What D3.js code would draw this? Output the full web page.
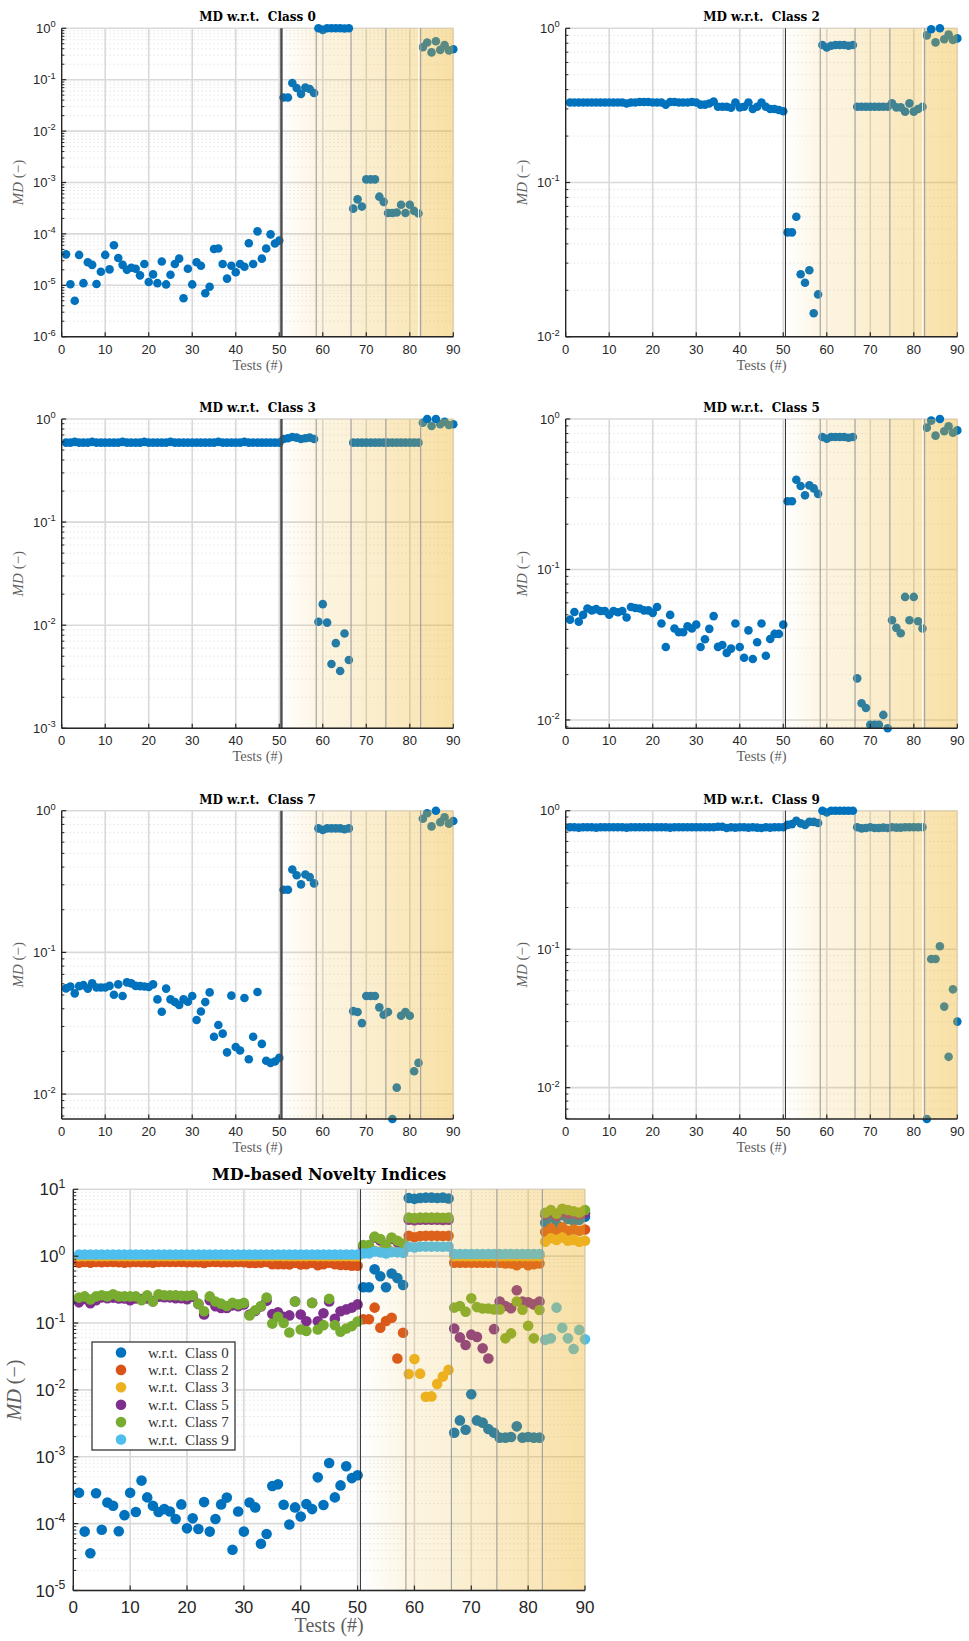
<!DOCTYPE html>
<html><head><meta charset="utf-8">
<script src="https://cdn.jsdelivr.net/npm/d3@7"></script>
<style>body{margin:0;background:#fff}svg{display:block}</style>
</head><body><svg id="c" width="969" height="1641"></svg>
<script>
// ---------------- DATA ----------------
const tests = d3.range(1, 91);
const xTickValues = [0,10,20,30,40,50,60,70,80,90];
const classNames = ["0","2","3","5","7","9"];
const bandEdges = [50.5, 58.5, 66.5, 74.5, 82.5, 90];

// MD w.r.t. Class 0
const c0 = [4.0e-5,1.05e-5,5.0e-6,3.9e-5,1.1e-5,2.8e-5,2.5e-5,1.06e-5,1.84e-5,3.9e-5,
2.04e-5,6.0e-5,3.4e-5,2.5e-5,2.0e-5,2.2e-5,2.1e-5,1.56e-5,2.6e-5,1.16e-5,
1.63e-5,1.1e-5,2.9e-5,1.04e-5,1.6e-5,2.6e-5,3.3e-5,5.6e-6,2.1e-5,1.04e-5,
2.8e-5,2.4e-5,7.0e-6,9.4e-6,5.1e-5,5.2e-5,2.6e-5,1.35e-5,2.4e-5,1.8e-5,
2.6e-5,2.3e-5,6.6e-5,2.6e-5,1.12e-4,3.3e-5,5.2e-5,9.8e-5,6.5e-5,7.4e-5,
0.045,0.045,0.086,0.069,0.053,0.07,0.066,0.055,
1.0,0.93,1.0,1.0,1.0,1.0,0.99,1.0,
3.1e-4,4.7e-4,3.4e-4,1.15e-3,1.15e-3,1.15e-3,5.3e-4,4.2e-4,
2.55e-4,2.55e-4,2.6e-4,3.7e-4,2.55e-4,3.7e-4,2.8e-4,2.5e-4,
0.43,0.53,0.34,0.56,0.38,0.47,0.37,0.39];
// MD w.r.t. Class 2
const c2 = [0.33,0.33,0.33,0.33,0.33,0.33,0.33,0.33,0.33,0.33,
0.33,0.33,0.33,0.325,0.33,0.33,0.333,0.333,0.333,0.33,
0.33,0.33,0.32,0.333,0.333,0.33,0.33,0.33,0.333,0.33,
0.32,0.32,0.325,0.335,0.31,0.31,0.31,0.305,0.33,0.307,
0.31,0.33,0.30,0.31,0.33,0.31,0.30,0.30,0.295,0.29,
0.0475,0.0475,0.06,0.0254,0.0224,0.027,0.0142,0.0188,
0.78,0.75,0.77,0.78,0.78,0.78,0.77,0.78,
0.31,0.31,0.31,0.31,0.31,0.31,0.31,0.31,
0.326,0.307,0.307,0.288,0.326,0.288,0.30,0.31,
0.9,0.985,0.81,1.0,0.85,0.91,0.84,0.86];
// MD w.r.t. Class 3
const c3 = [0.59,0.59,0.6,0.59,0.59,0.59,0.6,0.59,0.59,0.59,
0.59,0.59,0.59,0.6,0.59,0.59,0.59,0.59,0.6,0.59,
0.59,0.59,0.59,0.59,0.6,0.59,0.59,0.59,0.59,0.59,
0.59,0.59,0.59,0.59,0.59,0.6,0.59,0.59,0.59,0.59,
0.59,0.6,0.59,0.59,0.59,0.59,0.59,0.59,0.59,0.59,
0.64,0.65,0.67,0.66,0.64,0.65,0.66,0.64,
0.0108,0.016,0.0106,0.0042,0.0067,0.0036,0.0083,0.0046,
0.59,0.59,0.59,0.59,0.59,0.59,0.59,0.59,
0.59,0.59,0.59,0.59,0.59,0.59,0.59,0.59,
0.92,1.0,0.855,1.0,0.89,0.94,0.875,0.89];
// MD w.r.t. Class 5
const c5 = [0.0464,0.0522,0.045,0.0499,0.055,0.0535,0.0545,0.053,0.053,0.050,
0.053,0.052,0.053,0.0479,0.0563,0.0555,0.055,0.0535,0.0535,0.0515,
0.0563,0.0437,0.0305,0.0499,0.0405,0.0383,0.0383,0.0419,0.0405,0.043,
0.0305,0.0344,0.0403,0.049,0.0306,0.0315,0.0279,0.0298,0.0437,0.0305,
0.0259,0.0394,0.0254,0.0328,0.0437,0.0267,0.0345,0.0373,0.0373,0.043,
0.284,0.284,0.395,0.359,0.311,0.362,0.346,0.318,
0.76,0.74,0.76,0.76,0.76,0.76,0.75,0.76,
0.0189,0.0129,0.012,0.0093,0.0093,0.0093,0.0108,0.0088,
0.046,0.0409,0.0377,0.0657,0.046,0.0657,0.0453,0.0405,
0.876,0.975,0.775,1.0,0.83,0.894,0.81,0.84];
// MD w.r.t. Class 7
const c7 = [0.0557,0.0575,0.0514,0.0578,0.0587,0.0555,0.0604,0.0565,0.0565,0.0565,
0.058,0.0503,0.0595,0.0492,0.0614,0.0604,0.058,0.0578,0.0575,0.057,
0.0595,0.0466,0.0381,0.0555,0.0466,0.0446,0.0425,0.0466,0.0448,0.0492,
0.0333,0.0383,0.0446,0.0522,0.0254,0.0307,0.0267,0.0197,0.0495,0.0215,
0.0203,0.0476,0.0176,0.0254,0.0525,0.0226,0.0172,0.0166,0.017,0.018,
0.277,0.277,0.385,0.35,0.302,0.355,0.34,0.307,
0.75,0.73,0.75,0.75,0.75,0.75,0.74,0.75,
0.0385,0.038,0.0317,0.0492,0.0492,0.0492,0.0409,0.0363,
0.038,0.00667,0.0111,0.0357,0.038,0.0357,0.0145,0.0166,
0.878,0.96,0.775,1.0,0.83,0.9,0.81,0.845];
// MD w.r.t. Class 9
const c9 = [0.76,0.76,0.755,0.76,0.76,0.76,0.755,0.76,0.76,0.76,
0.76,0.76,0.76,0.755,0.76,0.76,0.76,0.76,0.76,0.76,
0.76,0.76,0.76,0.755,0.76,0.76,0.76,0.76,0.76,0.76,
0.76,0.76,0.76,0.76,0.765,0.765,0.75,0.76,0.755,0.76,
0.76,0.755,0.76,0.755,0.75,0.76,0.755,0.76,0.76,0.76,
0.79,0.8,0.847,0.81,0.79,0.83,0.83,0.815,
1.0,0.97,1.0,1.0,1.0,1.0,1.0,1.0,
0.76,0.745,0.75,0.76,0.75,0.75,0.755,0.75,
0.76,0.755,0.755,0.76,0.76,0.76,0.76,0.76,
0.00594,0.085,0.085,0.105,0.0385,0.0167,0.0513,0.03];

// MD-based novelty indices (bottom panel)
const n0 = [2.9e-4,7.6e-5,3.6e-5,2.85e-4,8.1e-5,2.07e-4,1.85e-4,7.7e-5,1.34e-4,2.9e-4,
1.49e-4,4.4e-4,2.47e-4,1.85e-4,1.49e-4,1.65e-4,1.52e-4,1.17e-4,1.94e-4,8.5e-5,
1.2e-4,8.3e-5,2.1e-4,7.6e-5,1.17e-4,1.94e-4,2.45e-4,4.06e-5,1.52e-4,7.6e-5,
2.07e-4,1.75e-4,5.0e-5,7.0e-5,3.65e-4,3.87e-4,1.92e-4,9.7e-5,1.75e-4,1.28e-4,
1.96e-4,1.65e-4,4.92e-4,1.9e-4,8.05e-4,2.47e-4,3.73e-4,7.2e-4,4.8e-4,5.3e-4,
0.342,0.342,0.635,0.5,0.342,0.55,0.47,0.37,
7.4,7.2,7.4,7.5,7.5,7.4,7.5,7.3,
2.29e-3,3.5e-3,2.54e-3,8.6e-3,3.5e-3,3.24e-3,2.6e-3,2.29e-3,
1.93e-3,1.93e-3,1.98e-3,2.85e-3,1.93e-3,1.98e-3,1.93e-3,1.93e-3,
3.16,3.8,3.0,4.1,3.6,3.4,3.5,3.9];
const n2 = [0.8,0.82,0.8,0.82,0.81,0.82,0.82,0.81,0.8,0.81,
0.82,0.81,0.81,0.8,0.82,0.82,0.82,0.82,0.82,0.81,
0.81,0.81,0.79,0.82,0.82,0.81,0.81,0.81,0.82,0.81,
0.79,0.79,0.8,0.82,0.76,0.76,0.76,0.75,0.8,0.75,
0.76,0.8,0.73,0.76,0.8,0.76,0.74,0.74,0.72,0.72,
0.114,0.114,0.17,0.085,0.107,0.12,0.0295,0.0716,
2.02,1.92,2.0,2.02,2.02,2.02,2.0,2.02,
0.8,0.8,0.8,0.8,0.8,0.8,0.8,0.8,
0.8,0.78,0.78,0.73,0.8,0.73,0.76,0.78,
2.3,2.6,2.15,2.7,2.4,2.5,2.4,2.5];
const n3 = [1.0,1.0,1.01,1.0,1.0,1.0,1.01,1.0,1.0,1.0,
1.0,1.0,1.0,1.01,1.0,1.0,1.0,1.0,1.01,1.0,
1.0,1.0,1.0,1.0,1.01,1.0,1.0,1.0,1.0,1.0,
1.0,1.0,1.0,1.0,1.0,1.01,1.0,1.0,1.0,1.0,
1.0,1.01,1.0,1.0,1.0,1.0,1.0,1.0,1.0,1.0,
1.15,1.15,1.2,1.18,1.15,1.17,1.18,1.15,
0.0173,0.029,0.0175,0.0079,0.008,0.0123,0.0158,0.0199,
1.0,1.0,1.0,1.0,1.0,1.0,1.0,1.0,
1.0,1.0,1.0,1.0,1.0,1.0,1.0,1.0,
1.64,1.85,1.75,1.9,1.7,1.75,1.64,1.7];
const n5 = [0.204,0.23,0.198,0.22,0.242,0.235,0.24,0.233,0.233,0.22,
0.233,0.229,0.233,0.211,0.248,0.244,0.242,0.235,0.235,0.227,
0.248,0.192,0.134,0.22,0.178,0.168,0.168,0.184,0.178,0.19,
0.134,0.151,0.177,0.216,0.136,0.145,0.124,0.13,0.21,0.134,
0.106,0.2,0.106,0.14,0.21,0.116,0.15,0.16,0.17,0.19,
1.4,1.4,1.9,1.72,1.4,1.82,1.62,1.45,
3.5,3.45,3.5,3.5,3.5,3.5,3.48,3.5,
0.083,0.061,0.047,0.067,0.062,0.042,0.0295,0.081,
0.21,0.18,0.166,0.31,0.21,0.205,0.19,0.21,
4.2,4.5,4.0,4.6,4.3,4.4,4.2,4.4];
const n7 = [0.24,0.25,0.225,0.25,0.26,0.25,0.27,0.25,0.25,0.25,
0.25,0.22,0.26,0.21,0.27,0.26,0.26,0.26,0.255,0.255,
0.26,0.195,0.15,0.25,0.21,0.195,0.18,0.2,0.19,0.2,
0.13,0.155,0.18,0.24,0.098,0.124,0.1,0.072,0.21,0.08,
0.076,0.2,0.08,0.093,0.23,0.093,0.074,0.083,0.09,0.105,
1.47,1.47,1.96,1.8,1.47,1.9,1.7,1.55,
3.77,3.7,3.77,3.77,3.77,3.77,3.75,3.77,
0.17,0.18,0.148,0.234,0.173,0.165,0.165,0.16,
0.16,0.059,0.07,0.21,0.158,0.091,0.059,0.157,
4.47,4.9,4.3,5.1,4.9,4.7,4.5,4.9];
const n9 = [1.06,1.06,1.06,1.06,1.06,1.06,1.06,1.06,1.06,1.06,
1.06,1.06,1.06,1.06,1.06,1.06,1.06,1.06,1.06,1.06,
1.06,1.06,1.06,1.06,1.06,1.06,1.06,1.06,1.06,1.06,
1.06,1.06,1.06,1.06,1.06,1.06,1.06,1.06,1.06,1.06,
1.06,1.06,1.06,1.06,1.06,1.06,1.06,1.06,1.06,1.06,
1.1,1.1,1.18,1.14,1.1,1.15,1.14,1.12,
1.39,1.35,1.39,1.39,1.39,1.39,1.38,1.39,
1.08,1.08,1.08,1.08,1.08,1.08,1.08,1.08,
1.08,1.08,1.08,1.08,1.08,1.08,1.08,1.08,
0.056,0.059,0.17,0.085,0.059,0.041,0.079,0.057];

const seriesColors = ["#0072BD","#D95319","#EDB120","#7E2F8E","#77AC30","#4DBEEE"];
const bandColor = "#EDB120";
const bandAlphaStart = [0.0, 0.13, 0.19, 0.27, 0.34];
const bandAlphaEnd   = [0.12, 0.17, 0.24, 0.31, 0.40];

// ---------------- DRAW ----------------
const svg = d3.select("#c");
const defs = svg.append("defs");
bandAlphaStart.forEach((a, i) => {
  const gr = defs.append("linearGradient").attr("id", "band" + i)
    .attr("x1", 0).attr("x2", 1).attr("y1", 0).attr("y2", 0);
  gr.append("stop").attr("offset", 0).attr("stop-color", bandColor).attr("stop-opacity", a);
  gr.append("stop").attr("offset", 1).attr("stop-color", bandColor).attr("stop-opacity", bandAlphaEnd[i]);
});

const SANS = "'Liberation Sans', Arial, Helvetica, sans-serif";
const SERIF = "'Liberation Serif', 'Times New Roman', serif";
const SERIFB = "'DejaVu Serif', 'Liberation Serif', serif";

function drawPanel(cfg) {
  const { left, right, top, bottom, yMin, yMax, series, title, big, thick, whiteLine, frontTop } = cfg;
  const x = d3.scaleLinear().domain([0, 90]).range([left, right]);
  const y = d3.scaleLog().domain([yMin, yMax]).range([bottom, top]);
  const g = svg.append("g");
  const tickFs = big ? 17 : 13;
  const r = big ? 5.3 : 4.3;

  const lo = Math.floor(Math.log10(yMin)), hi = Math.ceil(Math.log10(yMax));
  const minorY = [];
  for (let d = lo; d < hi; d++) for (let m = 2; m <= 9; m++) {
    const v = m * Math.pow(10, d);
    if (v > yMin && v < yMax) minorY.push(v);
  }
  const majorY = [];
  for (let d = lo; d <= hi; d++) { const v = Math.pow(10, d); if (v >= yMin * 0.999 && v <= yMax * 1.001) majorY.push(v); }

  g.selectAll(".mgy").data(minorY).enter().append("line")
    .attr("x1", left).attr("x2", right).attr("y1", d => y(d)).attr("y2", d => y(d))
    .attr("stroke", "#d0d0d0").attr("stroke-width", 0.8).attr("stroke-dasharray", "1,3");
  g.selectAll(".gy").data(majorY).enter().append("line")
    .attr("x1", left).attr("x2", right).attr("y1", d => y(d)).attr("y2", d => y(d))
    .attr("stroke", "#d9d9d9").attr("stroke-width", 1.6);
  g.selectAll(".gx").data(xTickValues.filter(v => v > 0)).enter().append("line")
    .attr("y1", top).attr("y2", bottom).attr("x1", d => x(d)).attr("x2", d => x(d))
    .attr("stroke", "#d9d9d9").attr("stroke-width", 1.6);

  const isFront = v => frontTop && v >= yMax * 0.98;
  series.forEach(s => {
    g.append("g").selectAll("circle").data(s.vals.map((v, i) => [tests[i], v]).filter(p => !isFront(p[1])))
      .enter().append("circle").attr("cx", p => x(p[0])).attr("cy", p => y(p[1])).attr("r", r)
      .attr("fill", s.color);
  });
  for (let i = 0; i < bandEdges.length - 1; i++) {
    g.append("rect").attr("x", x(bandEdges[i])).attr("y", top)
      .attr("width", x(bandEdges[i + 1]) - x(bandEdges[i])).attr("height", bottom - top)
      .attr("fill", "url(#band" + i + ")");
  }
  if (whiteLine) {
    g.append("line").attr("x1", x(82.0)).attr("x2", x(82.0)).attr("y1", top).attr("y2", bottom)
      .attr("stroke", "#ffffff").attr("stroke-width", 1).attr("opacity", 0.85);
  }
  bandEdges.slice(1, 5).forEach(b => {
    g.append("line").attr("x1", x(b)).attr("x2", x(b)).attr("y1", top).attr("y2", bottom)
      .attr("stroke", "#9c9c9c").attr("stroke-width", 1.1);
  });
  g.append("line").attr("x1", x(bandEdges[0])).attr("x2", x(bandEdges[0])).attr("y1", top).attr("y2", bottom)
    .attr("stroke", thick ? "#4a4a4a" : "#2a2a2a").attr("stroke-width", thick ? 2.4 : 1);
  series.forEach(s => {
    g.append("g").selectAll("circle").data(s.vals.map((v, i) => [tests[i], v]).filter(p => isFront(p[1])))
      .enter().append("circle").attr("cx", p => x(p[0])).attr("cy", p => y(p[1])).attr("r", r)
      .attr("fill", s.color);
  });

  const ax = "#262626";
  g.append("line").attr("x1", left).attr("x2", left).attr("y1", top).attr("y2", bottom).attr("stroke", ax).attr("stroke-width", 1.4);
  g.append("line").attr("x1", left).attr("x2", right).attr("y1", bottom).attr("y2", bottom).attr("stroke", ax).attr("stroke-width", 1.4);
  const tl = big ? 5 : 4.5;
  majorY.forEach(v => g.append("line").attr("x1", left).attr("x2", left + tl).attr("y1", y(v)).attr("y2", y(v)).attr("stroke", ax).attr("stroke-width", 1.2));
  minorY.forEach(v => g.append("line").attr("x1", left).attr("x2", left + tl * 0.6).attr("y1", y(v)).attr("y2", y(v)).attr("stroke", ax).attr("stroke-width", 1));
  xTickValues.forEach(v => g.append("line").attr("x1", x(v)).attr("x2", x(v)).attr("y1", bottom).attr("y2", bottom - tl).attr("stroke", ax).attr("stroke-width", 1.2));

  xTickValues.forEach(v => g.append("text").attr("x", x(v)).attr("y", bottom + (big ? 22 : 17))
    .attr("text-anchor", "middle").attr("font-family", SANS).attr("font-size", tickFs).attr("fill", "#262626").text(v));
  majorY.forEach(v => {
    const t = g.append("text").attr("x", left - (big ? 8 : 6)).attr("y", y(v) + tickFs * 0.36)
      .attr("text-anchor", "end").attr("font-family", SANS).attr("font-size", tickFs).attr("fill", "#262626");
    t.append("tspan").text("10");
    t.append("tspan").attr("dy", -tickFs * 0.45).attr("font-size", tickFs * 0.72).text(Math.round(Math.log10(v)));
  });

  const cx = (left + right) / 2, cy = (top + bottom) / 2;
  g.append("text").attr("x", cx).attr("y", top - (big ? 9 : 7)).attr("text-anchor", "middle")
    .attr("font-family", SERIFB).attr("font-weight", "bold").attr("font-size", big ? 16 : 12)
    .attr("fill", "#000").attr("xml:space", "preserve").text(title);
  g.append("text").attr("x", cx).attr("y", bottom + (big ? 41 : 33)).attr("text-anchor", "middle")
    .attr("font-family", SERIF).attr("font-size", big ? 20 : 14.5).attr("fill", "#5f5f5f").text("Tests (#)");
  const yl = g.append("text").attr("transform", `translate(${left - (big ? 52 : 39)},${cy}) rotate(-90)`)
    .attr("text-anchor", "middle").attr("font-family", SERIF).attr("font-size", big ? 20 : 15).attr("fill", "#5f5f5f");
  yl.append("tspan").attr("font-style", "italic").text("MD");
  yl.append("tspan").text(" (\u2212)");
  return { x, y, g };
}

const topSeries = [c0, c2, c3, c5, c7, c9];
const yMins = [1e-6, 1e-2, 1e-3, 0.0088, 0.00667, 0.00594];
const colLeft = [61.7, 565.7], colRight = [453.3, 957.3];
const rowTop = [28.3, 419, 810.7], rowBottom = [336.7, 728.3, 1119];
const whiteLines = [true, true, false, true, false, true];

topSeries.forEach((vals, i) => {
  const col = i % 2, row = Math.floor(i / 2);
  drawPanel({
    left: colLeft[col], right: colRight[col], top: rowTop[row], bottom: rowBottom[row],
    yMin: yMins[i], yMax: 1, series: [{ vals, color: seriesColors[0] }],
    title: "MD w.r.t.  Class " + classNames[i], big: false, thick: col === 0,
    whiteLine: whiteLines[i], frontTop: true
  });
});

const bottomSeries = [n0, n2, n3, n5, n7, n9];
drawPanel({
  left: 73.3, right: 585, top: 1189.3, bottom: 1590.5, yMin: 1e-5, yMax: 10,
  series: bottomSeries.map((vals, i) => ({ vals, color: seriesColors[i] })),
  title: "MD-based Novelty Indices", big: true, thick: false, whiteLine: false, frontTop: false
});

const lg = svg.append("g");
lg.append("rect").attr("x", 92).attr("y", 1342).attr("width", 143).attr("height", 108)
  .attr("fill", "#fff").attr("stroke", "#262626").attr("stroke-width", 1.2);
classNames.forEach((c, i) => {
  const yy = 1352.5 + i * 17.4;
  lg.append("circle").attr("cx", 121).attr("cy", yy).attr("r", 5.3).attr("fill", seriesColors[i]);
  lg.append("text").attr("x", 148).attr("y", yy + 5).attr("font-family", SERIF).attr("font-size", 15)
    .attr("fill", "#333").attr("xml:space", "preserve").text("w.r.t.  Class " + c);
});
</script></body></html>
